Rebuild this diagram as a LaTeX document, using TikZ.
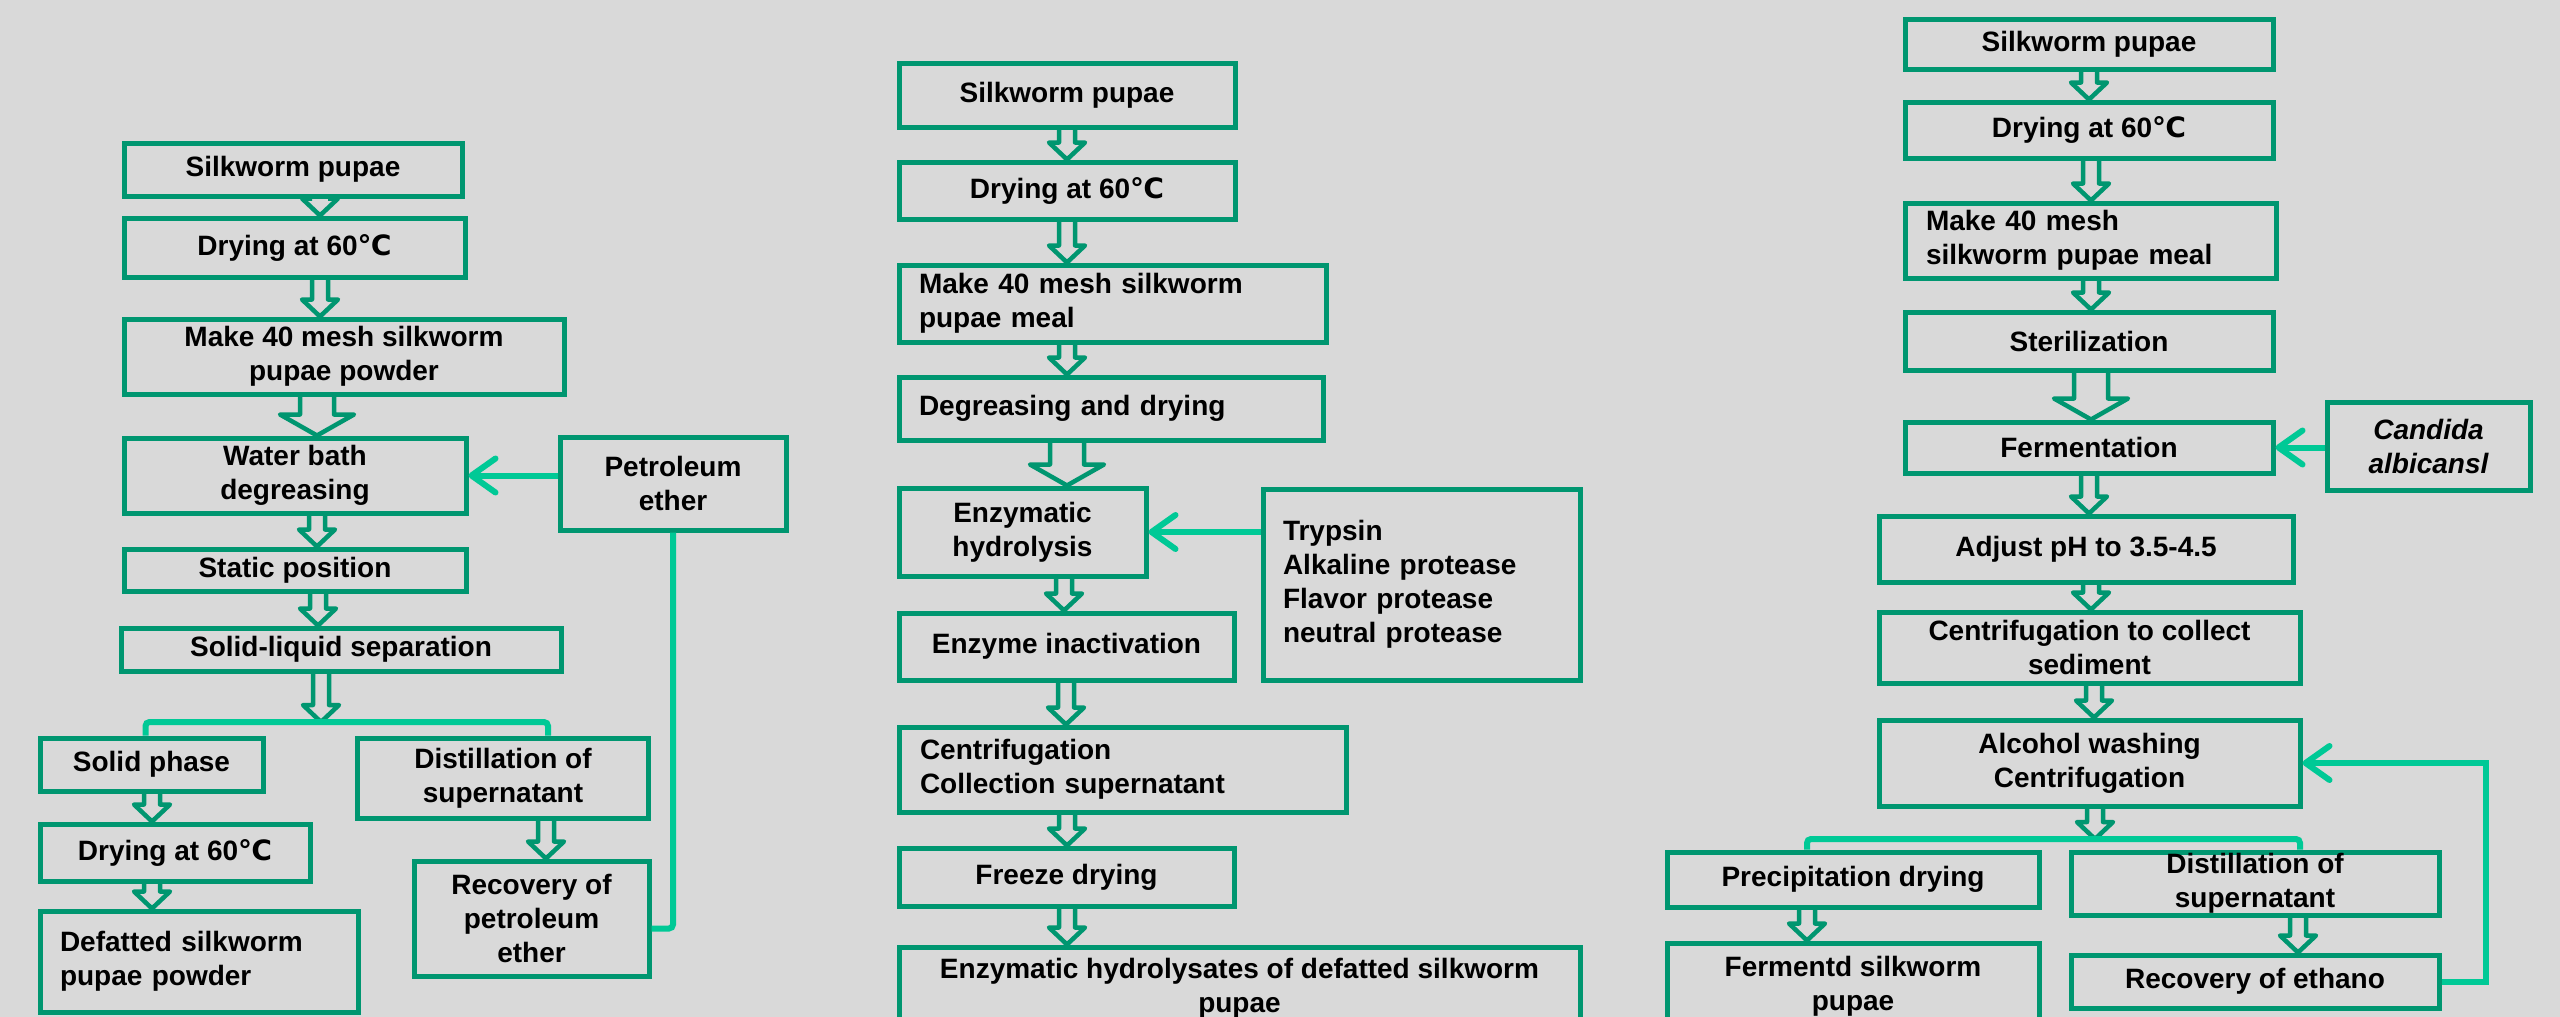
\documentclass[tikz,border=0pt]{standalone}
\usepackage{fontspec}
\setmainfont{Liberation Sans}
\newfontfamily\celsiusfont{DejaVu Sans}
\usetikzlibrary{calc,arrows.meta}

\definecolor{boxgreen}{RGB}{0,150,112}
\definecolor{linkgreen}{RGB}{0,201,150}
\definecolor{paper}{RGB}{217,217,217}

\newcommand{\degC}{{\celsiusfont ℃}}

\tikzset{
  stage/.style   = {draw=boxgreen, line width=5pt, inner sep=0pt, align=center,
                    font=\bfseries\fontsize{28}{34}\selectfont},
  boxsize/.style 2 args = {minimum width=#1, minimum height=#2},
  species/.style = {font=\bfseries\itshape\fontsize{28}{34}\selectfont},
  hollow/.style  = {draw=boxgreen, line width=4.5pt, line join=round},
  link/.style    = {draw=linkgreen, line width=6pt, rounded corners=4pt},
  feed/.style    = {draw=linkgreen, line width=6pt,
                    -{Straight Barb[length=24pt,width=34pt,round]}}
}

% hollow block arrows: #1 = x, #2 = start, #3 = tip
\newcommand{\smallarr}[3]{%
  \draw[hollow] let \p1=(#2), \p2=(#3) in
    (#1pt-8pt,\y1) -- (#1pt-8pt,\y2+17pt) -- (#1pt-18pt,\y2+17pt) -- (#1pt,\y2)
    -- (#1pt+18pt,\y2+17pt) -- (#1pt+8pt,\y2+17pt) -- (#1pt+8pt,\y1);}
\newcommand{\bigarr}[3]{%
  \draw[hollow] let \p1=(#2), \p2=(#3) in
    (#1pt-17pt,\y1) -- (#1pt-17pt,\y2+21pt) -- (#1pt-37pt,\y2+21pt) -- (#1pt,\y2)
    -- (#1pt+37pt,\y2+21pt) -- (#1pt+17pt,\y2+21pt) -- (#1pt+17pt,\y1);}

\begin{document}
\begin{tikzpicture}[x=1pt, y=-1pt]
  \path[use as bounding box, fill=paper] (0,0) rectangle (2560,1017);
  \clip (0,0) rectangle (2560,1017);

  % degreasing
  \node[stage, boxsize={338}{53}]  (l1) at (293,169.5)   {Silkworm pupae};
  \node[stage, boxsize={341}{59}]  (l2) at (294.5,247.5) {Drying at 60\degC};
  \node[stage, boxsize={440}{75}]  (l3) at (344,356.5)   {Make 40 mesh silkworm\\pupae powder};
  \node[stage, boxsize={342}{75}]  (l4) at (295,475.5)   {Water bath\\degreasing};
  \node[stage, boxsize={226}{93}]  (pe) at (673,483.5)   {Petroleum\\ether};
  \node[stage, boxsize={342}{42}]  (l5) at (295,570)     {Static position};
  \node[stage, boxsize={440}{43}]  (l6) at (341,649.5)   {Solid-liquid separation};
  \node[stage, boxsize={223}{53}]  (sp) at (151.5,764.5) {Solid phase};
  \node[stage, boxsize={291}{80}]  (ld) at (503,778)     {Distillation of\\supernatant};
  \node[stage, boxsize={270}{57}]  (l7) at (175,852.5)   {Drying at 60\degC};
  \node[stage, boxsize={318}{101}, align=left, text width=278] (l8) at (199,961.5) {Defatted silkworm\\pupae powder};
  \node[stage, boxsize={235}{115}] (rp) at (531.5,918.5) {Recovery of\\petroleum\\ether};
  \coordinate (lfork) at (321,722);

  \smallarr{320}{l1.south}{l2.north}
  \smallarr{320}{l2.south}{l3.north}
  \bigarr{317}{l3.south}{l4.north}
  \smallarr{317}{l4.south}{l5.north}
  \smallarr{318}{l5.south}{l6.north}
  \smallarr{321}{l6.south}{lfork}
  \smallarr{152}{sp.south}{l7.north}
  \smallarr{152}{l7.south}{l8.north}
  \smallarr{546}{ld.south}{rp.north}
  \draw[link] ([xshift=-6]sp.north) |- (lfork) -| ([xshift=45]ld.north);
  \draw[feed] (pe.west |- l4.east) -- (l4.east);
  \draw[link] ([yshift=-10]rp.east) -| (pe.south);

  % enzymatic hydrolysis
  \node[stage, boxsize={336}{64}]  (m1) at (1067,95)      {Silkworm pupae};
  \node[stage, boxsize={336}{57}]  (m2) at (1067,190.5)   {Drying at 60\degC};
  \node[stage, boxsize={427}{77}, align=left, text width=387] (m3) at (1112.5,303.5) {Make 40 mesh silkworm\\pupae meal};
  \node[stage, boxsize={424}{63}, align=left, text width=384] (m4) at (1111,408.5)   {Degreasing and drying};
  \node[stage, boxsize={247}{88}]  (m5) at (1022.5,532)   {Enzymatic\\hydrolysis};
  \node[stage, boxsize={317}{191}, align=left, text width=277] (el) at (1421.5,584.5) {Trypsin\\Alkaline protease\\Flavor protease\\neutral protease};
  \node[stage, boxsize={335}{67}]  (m6) at (1066.5,646.5) {Enzyme inactivation};
  \node[stage, boxsize={447}{85}, align=left, text width=405] (m7) at (1122.5,769.5) {Centrifugation\\Collection supernatant};
  \node[stage, boxsize={335}{58}]  (m8) at (1066.5,877)   {Freeze drying};
  \node[stage, boxsize={681}{83}]  (m9) at (1239.5,988.5) {Enzymatic hydrolysates of defatted silkworm\\pupae};

  \smallarr{1067}{m1.south}{m2.north}
  \smallarr{1067}{m2.south}{m3.north}
  \smallarr{1067}{m3.south}{m4.north}
  \bigarr{1067}{m4.south}{m5.north}
  \smallarr{1064}{m5.south}{m6.north}
  \smallarr{1066}{m6.south}{m7.north}
  \smallarr{1067}{m7.south}{m8.north}
  \smallarr{1067}{m8.south}{m9.north}
  \draw[feed] (el.west |- m5.east) -- (m5.east);

  % fermentation
  \node[stage, boxsize={368}{50}]  (r1) at (2089,44)      {Silkworm pupae};
  \node[stage, boxsize={368}{56}]  (r2) at (2089,130)     {Drying at 60\degC};
  \node[stage, boxsize={371}{75}, align=left, text width=329] (r3) at (2090.5,240.5) {Make 40 mesh\\silkworm pupae meal};
  \node[stage, boxsize={368}{58}]  (r4) at (2089,341)     {Sterilization};
  \node[stage, boxsize={368}{51}]  (r5) at (2089,447.5)   {Fermentation};
  \node[stage, species, boxsize={203}{88}] (ca) at (2428.5,446) {Candida\\albicansl};
  \node[stage, boxsize={414}{66}]  (r6) at (2086,549)     {Adjust pH to 3.5-4.5};
  \node[stage, boxsize={421}{71}]  (r7) at (2089.5,647.5) {Centrifugation to collect\\sediment};
  \node[stage, boxsize={421}{86}]  (r8) at (2089.5,763)   {Alcohol washing\\Centrifugation};
  \node[stage, boxsize={372}{55}]  (pd) at (1853,879.5)   {Precipitation drying};
  \node[stage, boxsize={368}{63}]  (rd) at (2255,883.5)   {Distillation of\\supernatant};
  \node[stage, boxsize={372}{87}]  (fs) at (1853,986.5)   {Fermentd silkworm\\pupae};
  \node[stage, boxsize={368}{53}]  (re) at (2255,981.5)   {Recovery of ethano};
  \coordinate (rfork) at (2095,839);

  \smallarr{2089}{r1.south}{r2.north}
  \smallarr{2091}{r2.south}{r3.north}
  \smallarr{2091}{r3.south}{r4.north}
  \bigarr{2091}{r4.south}{r5.north}
  \smallarr{2089}{r5.south}{r6.north}
  \smallarr{2091}{r6.south}{r7.north}
  \smallarr{2094}{r7.south}{r8.north}
  \smallarr{2095}{r8.south}{rfork}
  \smallarr{1807}{pd.south}{fs.north}
  \smallarr{2298}{rd.south}{re.north}
  \draw[link] ([xshift=-46]pd.north) |- (rfork) -| ([xshift=45]rd.north);
  \draw[feed] (ca.west |- r5.east) -- (r5.east);
  \draw[feed] (re.east) -- ++(44,0) |- (r8.east);
\end{tikzpicture}
\end{document}
